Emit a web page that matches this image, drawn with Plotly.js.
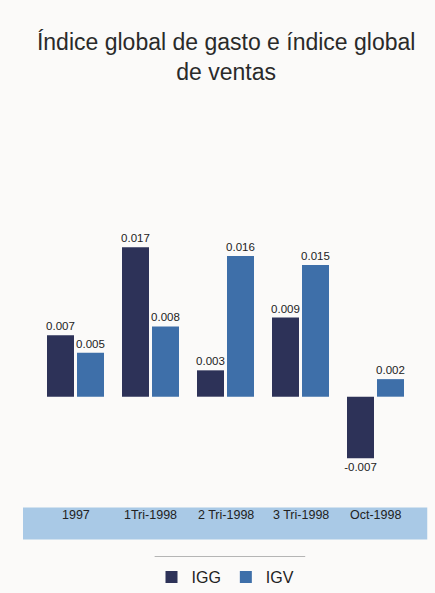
<!DOCTYPE html>
<html><head><meta charset="utf-8">
<script src="https://cdn.plot.ly/plotly-3.0.1.min.js"></script>
<style>html,body{margin:0;padding:0;background:#fbfaf9;}#chart{width:435px;height:593px;}</style>
</head><body><div id="chart"></div>
<script>
const categories = ["1997", "1Tri-1998", "2 Tri-1998", "3 Tri-1998", "Oct-1998"];
const igg = [0.007, 0.017, 0.003, 0.009, -0.007];
const igv = [0.005, 0.008, 0.016, 0.015, 0.002];
const seriesNames = ["IGG", "IGV"];

const font = "'Liberation Sans Narrow', 'Arial Narrow', 'Liberation Sans', sans-serif";
const fmt = v => v.toFixed(3);

const traces = [
  {type:'bar', name:seriesNames[0], x:categories, y:igg, marker:{color:'#2d3258'},
   text:igg.map(fmt), textposition:'outside', cliponaxis:false, constraintext:'none',
   textfont:{family:font, size:11.5, color:'#222'}, hoverinfo:'none'},
  {type:'bar', name:seriesNames[1], x:categories, y:igv, marker:{color:'#3e6fa9'},
   text:igv.map(fmt), textposition:'outside', cliponaxis:false, constraintext:'none',
   textfont:{family:font, size:11.5, color:'#222'}, hoverinfo:'none'}
];

const annotations = categories.map((c, i) => ({
  x:i, xref:'x', y:-0.211, yref:'paper', text:c, showarrow:false,
  font:{family:font, size:12.5, color:'#222'}
}));

const layout = {
  width:435, height:593,
  paper_bgcolor:'#fbfaf9', plot_bgcolor:'rgba(0,0,0,0)',
  margin:{l:38, r:22, t:199, b:126},
  title:{text:'Índice global de gasto e índice global<br>de ventas', x:0.52, xanchor:'center',
         y:0.915, yanchor:'top', yref:'container',
         font:{family:font, size:23, color:'#2a2a2a'}},
  barmode:'group', bargap:0.2, bargroupgap:0.1,
  xaxis:{type:'category', categoryorder:'array', categoryarray:categories, range:[-0.5, 4.5],
         showticklabels:false, ticks:'', showgrid:false, zeroline:false, showline:false, automargin:false},
  yaxis:{range:[-0.008, 0.0225], showticklabels:false, ticks:'', showgrid:false, zeroline:false, showline:false, automargin:false},
  showlegend:true,
  legend:{orientation:'h', x:0.5, xanchor:'center', xref:'paper', y:0.027, yanchor:'middle', yref:'container',
          font:{family:font, size:16, color:'#222'}, bgcolor:'rgba(0,0,0,0)', itemwidth:30, traceorder:'normal'},
  shapes:[
    {type:'rect', xref:'paper', yref:'paper', x0:-0.04, x1:1.038, y0:-0.151, y1:-0.2705,
     fillcolor:'#a9c9e6', line:{width:0}, layer:'below'},
    {type:'line', xref:'paper', yref:'paper', x0:0.311, x1:0.7126, y0:-0.334, y1:-0.334,
     line:{color:'#b5b5b5', width:1}}
  ],
  annotations:annotations
};

Plotly.newPlot('chart', traces, layout, {displayModeBar:false, staticPlot:true});
</script>
</body></html>
